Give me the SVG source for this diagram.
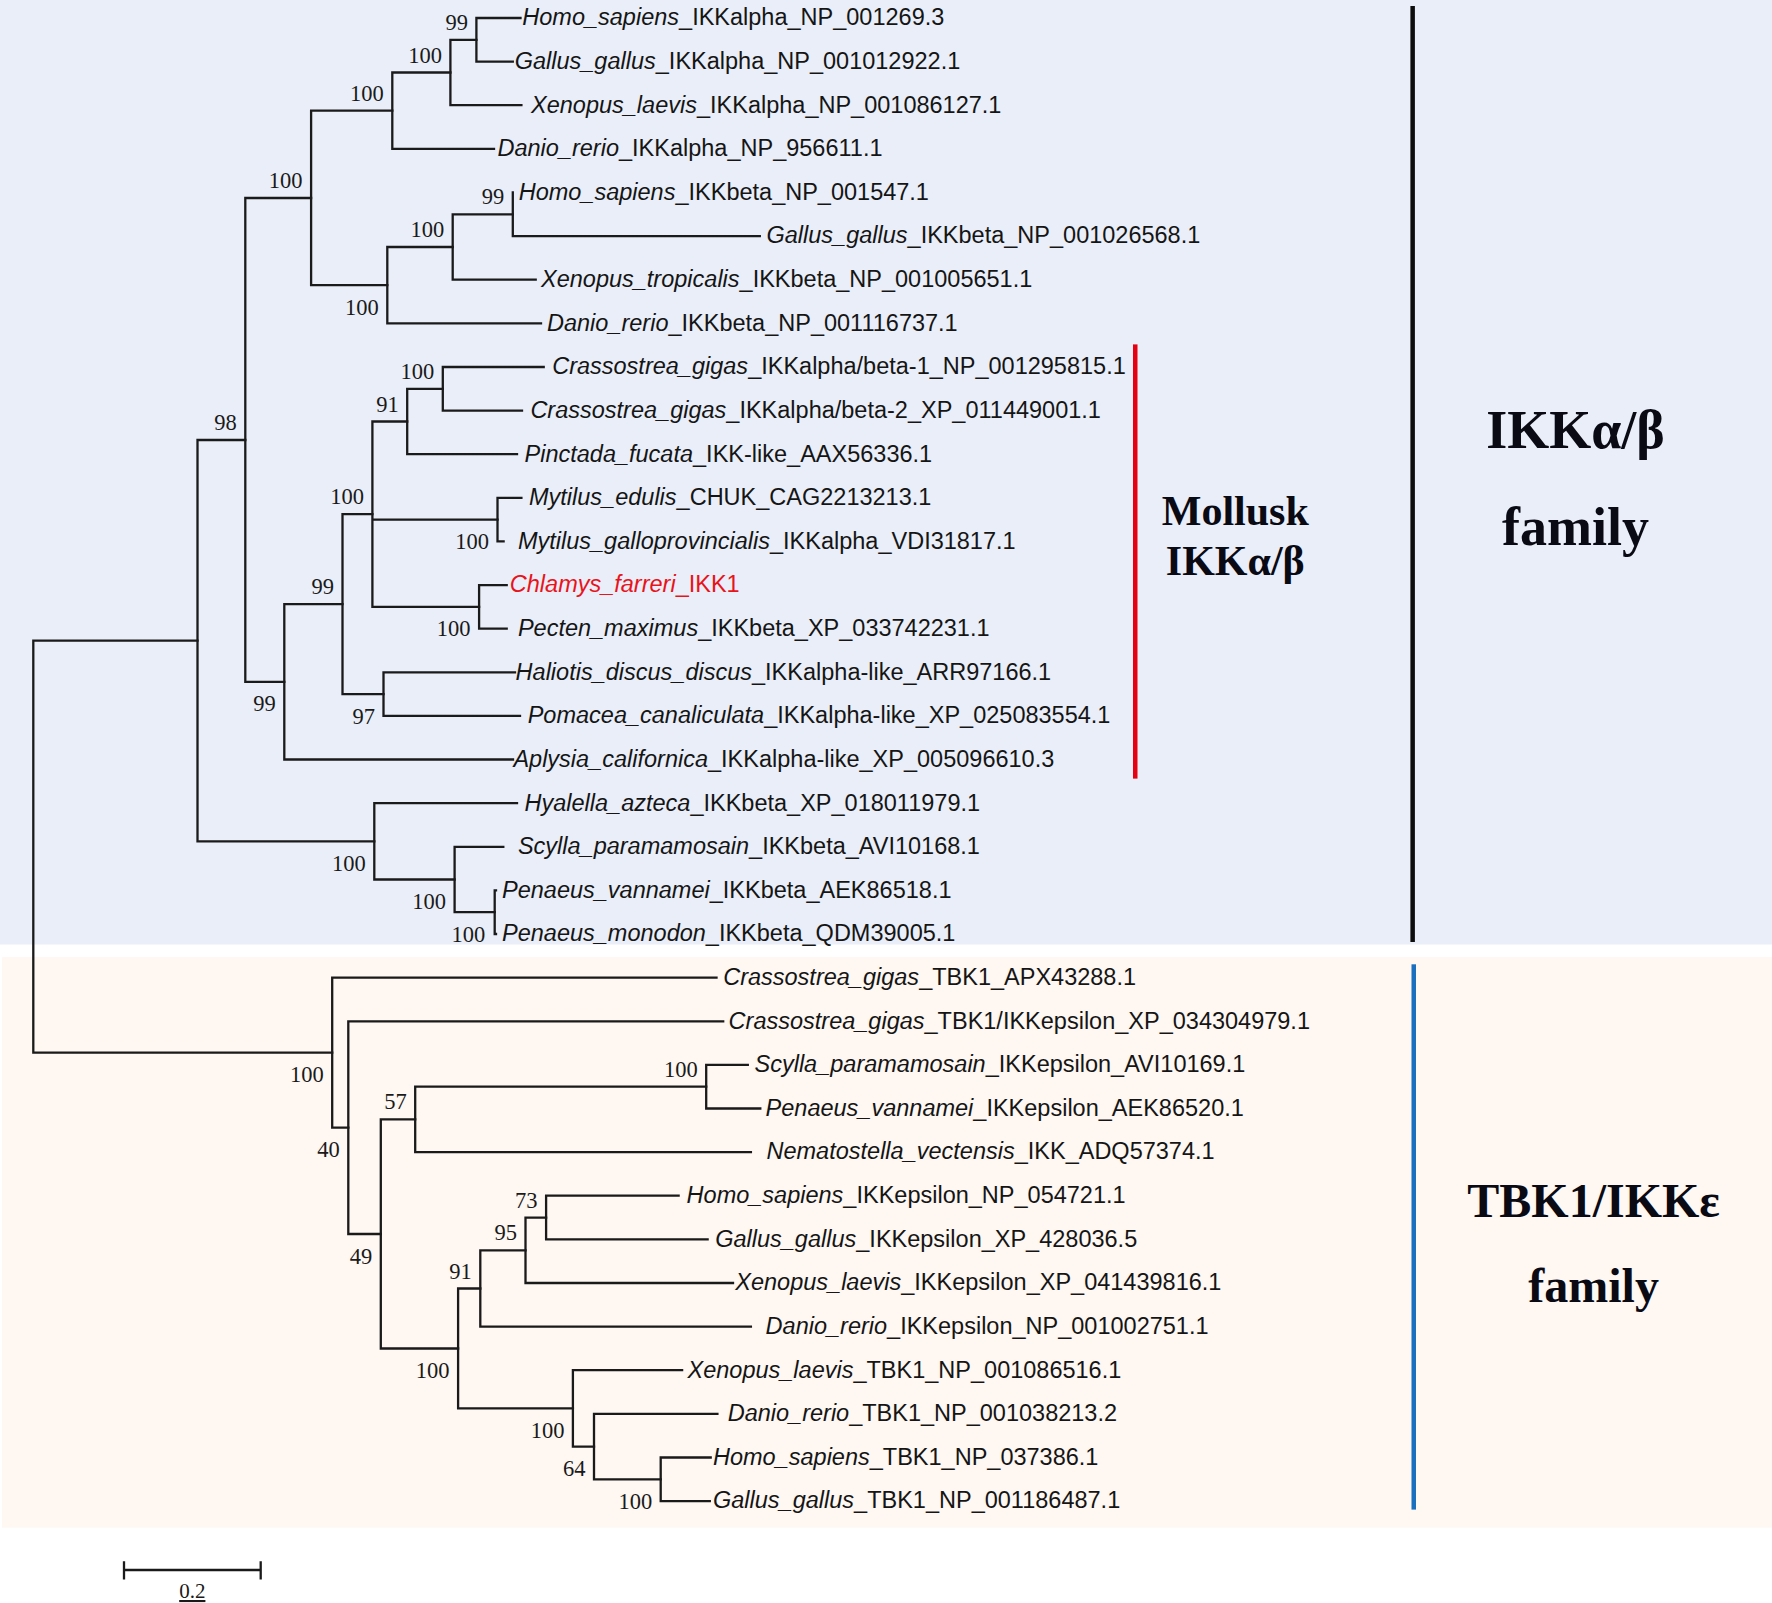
<svg xmlns="http://www.w3.org/2000/svg" width="1772" height="1603" viewBox="0 0 1772 1603">
<style>
.lab{font-family:"Liberation Sans",Arial,sans-serif;font-size:23.5px;fill:#151515}
.sp{font-style:italic}
.red{fill:#e8141b}
.bs{font-family:"Liberation Serif","Times New Roman",serif;font-size:22.5px;fill:#1a1a1a;text-anchor:end}
.br{fill:none;stroke:#1a1a1a;stroke-width:2.3;stroke-linecap:square}
.big{font-family:"Liberation Serif","Times New Roman",serif;font-weight:bold;fill:#0a0a14;text-anchor:middle}
</style>
<rect x="0" y="0" width="1772" height="1603" fill="#ffffff"/>
<g id="backgrounds">
<rect x="0" y="0" width="1772" height="944.5" fill="#e9eef8"/>
<rect x="2" y="957" width="1770" height="570.6" fill="#fef7f2"/>
</g>
<g id="connectors">
<path class="br" d="M197.5,640.7 H33.3 V1052.7 H332.2"/>
<path class="br" d="M245.3,440 H197.5 V841.4 H374.3"/>
<path class="br" d="M311.1,198 H245.3 V681.9 H284.3"/>
<path class="br" d="M392.3,110.7 H311.1 V285.2 H387.3"/>
<path class="br" d="M450.4,72.5 H392.3 V148.9 H494"/>
<path class="br" d="M476.4,39.8 H450.4 V105.2 H521.4"/>
<path class="br" d="M520.5,18 H476.4 V61.6 H512.8"/>
<path class="br" d="M452.7,247 H387.3 V323.3 H541"/>
<path class="br" d="M512.8,214.3 H452.7 V279.7 H535.7"/>
<path class="br" d="M512.8,192.5 V236.1 H759.8"/>
<path class="br" d="M342.5,604.2 H284.3 V759.5 H513"/>
<path class="br" d="M372.4,514.2 H342.5 V694.1 H383.5"/>
<path class="br" d="M407.2,421.5 H372.4 V606.9 H479.1 M372.4,519.6 H497.5"/>
<path class="br" d="M442.8,388.8 H407.2 V454.2 H517"/>
<path class="br" d="M543.7,367 H442.8 V410.6 H522"/>
<path class="br" d="M521.4,497.8 H497.5 V541.4 H503.6"/>
<path class="br" d="M506.7,585.1 H479.1 V628.7 H506.7"/>
<path class="br" d="M515,672.3 H383.5 V715.9 H520"/>
<path class="br" d="M517,803.2 H374.3 V879.5 H454.6"/>
<path class="br" d="M503.3,846.8 H454.6 V912.2 H494.7"/>
<path class="br" d="M496,890.4 H494.7 V934 H496"/>
<path class="br" d="M716.5,977.6 H332.2 V1127.7 H348.3"/>
<path class="br" d="M723.2,1021.3 H348.3 V1234 H380.8"/>
<path class="br" d="M415.2,1119.4 H380.8 V1348.5 H458.1"/>
<path class="br" d="M706.2,1086.7 H415.2 V1152.1 H750.9"/>
<path class="br" d="M747.8,1064.9 H706.2 V1108.5 H760.3"/>
<path class="br" d="M480.3,1288.5 H458.1 V1408.4 H572.9"/>
<path class="br" d="M525.5,1250.3 H480.3 V1326.6 H750.9"/>
<path class="br" d="M546.1,1217.6 H525.5 V1283 H733"/>
<path class="br" d="M678.6,1195.7 H546.1 V1239.4 H707.6"/>
<path class="br" d="M682.1,1370.2 H572.9 V1446.6 H594"/>
<path class="br" d="M717.4,1413.8 H594 V1479.3 H660.7"/>
<path class="br" d="M710.7,1457.5 H660.7 V1501.1 H709.8"/>
</g>
<g id="bootstrap">
<text class="bs" x="467.9" y="29.8">99</text>
<text class="bs" x="441.9" y="62.5">100</text>
<text class="bs" x="383.8" y="100.7">100</text>
<text class="bs" x="302.6" y="188">100</text>
<text class="bs" x="504.3" y="204.3">99</text>
<text class="bs" x="444.2" y="237">100</text>
<text class="bs" x="378.8" y="314.7">100</text>
<text class="bs" x="434.3" y="378.8">100</text>
<text class="bs" x="398.7" y="411.5">91</text>
<text class="bs" x="236.8" y="430">98</text>
<text class="bs" x="363.9" y="504.2">100</text>
<text class="bs" x="489" y="549.1">100</text>
<text class="bs" x="334" y="594.2">99</text>
<text class="bs" x="470.6" y="636.4">100</text>
<text class="bs" x="275.8" y="711.4">99</text>
<text class="bs" x="375" y="723.6">97</text>
<text class="bs" x="365.8" y="870.9">100</text>
<text class="bs" x="446.1" y="909">100</text>
<text class="bs" x="485.2" y="941.7">100</text>
<text class="bs" x="323.7" y="1082.2">100</text>
<text class="bs" x="339.8" y="1157.2">40</text>
<text class="bs" x="406.7" y="1109.4">57</text>
<text class="bs" x="372.3" y="1263.5">49</text>
<text class="bs" x="697.7" y="1076.7">100</text>
<text class="bs" x="537.6" y="1207.6">73</text>
<text class="bs" x="517" y="1240.3">95</text>
<text class="bs" x="471.8" y="1278.5">91</text>
<text class="bs" x="449.6" y="1378">100</text>
<text class="bs" x="564.4" y="1437.9">100</text>
<text class="bs" x="585.5" y="1476.1">64</text>
<text class="bs" x="652.2" y="1508.8">100</text>
</g>
<g id="leaves">
<g id="leaf-01"><text class="lab" x="522.3" y="25.3"><tspan class="sp">Homo_sapiens</tspan>_IKKalpha_NP_001269.3</text></g>
<g id="leaf-02"><text class="lab" x="514.7" y="68.9"><tspan class="sp">Gallus_gallus</tspan>_IKKalpha_NP_001012922.1</text></g>
<g id="leaf-03"><text class="lab" x="531" y="112.5"><tspan class="sp">Xenopus_laevis</tspan>_IKKalpha_NP_001086127.1</text></g>
<g id="leaf-04"><text class="lab" x="497.5" y="156.2"><tspan class="sp">Danio_rerio</tspan>_IKKalpha_NP_956611.1</text></g>
<g id="leaf-05"><text class="lab" x="518.7" y="199.8"><tspan class="sp">Homo_sapiens</tspan>_IKKbeta_NP_001547.1</text></g>
<g id="leaf-06"><text class="lab" x="766.5" y="243.4"><tspan class="sp">Gallus_gallus</tspan>_IKKbeta_NP_001026568.1</text></g>
<g id="leaf-07"><text class="lab" x="541" y="287"><tspan class="sp">Xenopus_tropicalis</tspan>_IKKbeta_NP_001005651.1</text></g>
<g id="leaf-08"><text class="lab" x="547" y="330.6"><tspan class="sp">Danio_rerio</tspan>_IKKbeta_NP_001116737.1</text></g>
<g id="leaf-09"><text class="lab" x="552.2" y="374.3"><tspan class="sp">Crassostrea_gigas</tspan>_IKKalpha/beta-1_NP_001295815.1</text></g>
<g id="leaf-10"><text class="lab" x="530.4" y="417.9"><tspan class="sp">Crassostrea_gigas</tspan>_IKKalpha/beta-2_XP_011449001.1</text></g>
<g id="leaf-11"><text class="lab" x="524.5" y="461.5"><tspan class="sp">Pinctada_fucata</tspan>_IKK-like_AAX56336.1</text></g>
<g id="leaf-12"><text class="lab" x="529" y="505.1"><tspan class="sp">Mytilus_edulis</tspan>_CHUK_CAG2213213.1</text></g>
<g id="leaf-13"><text class="lab" x="517.9" y="548.7"><tspan class="sp">Mytilus_galloprovincialis</tspan>_IKKalpha_VDI31817.1</text></g>
<g id="leaf-14"><text class="lab red" x="509.8" y="592.4"><tspan class="sp">Chlamys_farreri</tspan>_IKK1</text></g>
<g id="leaf-15"><text class="lab" x="517.9" y="636"><tspan class="sp">Pecten_maximus</tspan>_IKKbeta_XP_033742231.1</text></g>
<g id="leaf-16"><text class="lab" x="515.6" y="679.6"><tspan class="sp">Haliotis_discus_discus</tspan>_IKKalpha-like_ARR97166.1</text></g>
<g id="leaf-17"><text class="lab" x="527.7" y="723.2"><tspan class="sp">Pomacea_canaliculata</tspan>_IKKalpha-like_XP_025083554.1</text></g>
<g id="leaf-18"><text class="lab" x="513.4" y="766.8"><tspan class="sp">Aplysia_californica</tspan>_IKKalpha-like_XP_005096610.3</text></g>
<g id="leaf-19"><text class="lab" x="524.5" y="810.5"><tspan class="sp">Hyalella_azteca</tspan>_IKKbeta_XP_018011979.1</text></g>
<g id="leaf-20"><text class="lab" x="517.9" y="854.1"><tspan class="sp">Scylla_paramamosain</tspan>_IKKbeta_AVI10168.1</text></g>
<g id="leaf-21"><text class="lab" x="502" y="897.7"><tspan class="sp">Penaeus_vannamei</tspan>_IKKbeta_AEK86518.1</text></g>
<g id="leaf-22"><text class="lab" x="502" y="941.3"><tspan class="sp">Penaeus_monodon</tspan>_IKKbeta_QDM39005.1</text></g>
<g id="leaf-23"><text class="lab" x="723.2" y="984.9"><tspan class="sp">Crassostrea_gigas</tspan>_TBK1_APX43288.1</text></g>
<g id="leaf-24"><text class="lab" x="728.6" y="1028.6"><tspan class="sp">Crassostrea_gigas</tspan>_TBK1/IKKepsilon_XP_034304979.1</text></g>
<g id="leaf-25"><text class="lab" x="754.5" y="1072.2"><tspan class="sp">Scylla_paramamosain</tspan>_IKKepsilon_AVI10169.1</text></g>
<g id="leaf-26"><text class="lab" x="765.6" y="1115.8"><tspan class="sp">Penaeus_vannamei</tspan>_IKKepsilon_AEK86520.1</text></g>
<g id="leaf-27"><text class="lab" x="766.5" y="1159.4"><tspan class="sp">Nematostella_vectensis</tspan>_IKK_ADQ57374.1</text></g>
<g id="leaf-28"><text class="lab" x="686.6" y="1203"><tspan class="sp">Homo_sapiens</tspan>_IKKepsilon_NP_054721.1</text></g>
<g id="leaf-29"><text class="lab" x="715.2" y="1246.7"><tspan class="sp">Gallus_gallus</tspan>_IKKepsilon_XP_428036.5</text></g>
<g id="leaf-30"><text class="lab" x="735.3" y="1290.3"><tspan class="sp">Xenopus_laevis</tspan>_IKKepsilon_XP_041439816.1</text></g>
<g id="leaf-31"><text class="lab" x="765.6" y="1333.9"><tspan class="sp">Danio_rerio</tspan>_IKKepsilon_NP_001002751.1</text></g>
<g id="leaf-32"><text class="lab" x="687.5" y="1377.5"><tspan class="sp">Xenopus_laevis</tspan>_TBK1_NP_001086516.1</text></g>
<g id="leaf-33"><text class="lab" x="727.7" y="1421.1"><tspan class="sp">Danio_rerio</tspan>_TBK1_NP_001038213.2</text></g>
<g id="leaf-34"><text class="lab" x="713" y="1464.8"><tspan class="sp">Homo_sapiens</tspan>_TBK1_NP_037386.1</text></g>
<g id="leaf-35"><text class="lab" x="713" y="1508.4"><tspan class="sp">Gallus_gallus</tspan>_TBK1_NP_001186487.1</text></g>
</g>
<g id="clade-bars">
<rect x="1410.4" y="6" width="4.5" height="936" fill="#0d0d0d"/>
<rect x="1133" y="344.4" width="4.5" height="434.2" fill="#e60012"/>
<rect x="1411.5" y="964.3" width="4.5" height="545.3" fill="#1a6fbf"/>
</g>
<g id="clade-labels">
<text class="big" x="1575.5" y="447.7" font-size="54">IKKα/β</text>
<text class="big" x="1575.5" y="544.6" font-size="54">family</text>
<text class="big" x="1235.3" y="524.5" font-size="42">Mollusk</text>
<text class="big" x="1235.3" y="575" font-size="42">IKKα/β</text>
<text class="big" x="1593.6" y="1217" font-size="48">TBK1/IKKε</text>
<text class="big" x="1593.6" y="1302" font-size="48">family</text>
</g>
<g id="scale-bar">
<path class="br" d="M124,1570 H260.7 M124,1562.3 V1578.3 M260.7,1562.3 V1578.3"/>
<text x="192.3" y="1598" font-family="Liberation Serif, Times New Roman, serif" font-size="21" fill="#1a1a1a" text-anchor="middle" text-decoration="underline">0.2</text>
</g>
</svg>
